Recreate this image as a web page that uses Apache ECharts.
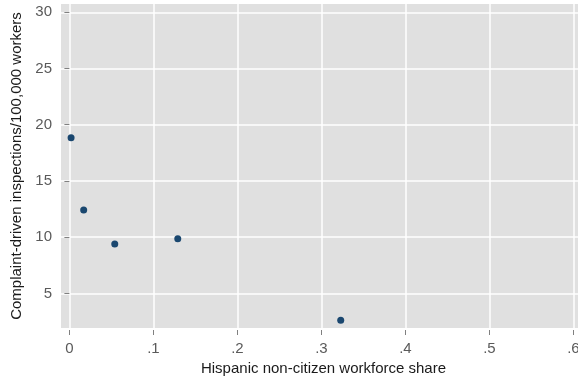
<!DOCTYPE html>
<html>
<head>
<meta charset="utf-8">
<script src="https://cdn.jsdelivr.net/npm/echarts@6/dist/echarts.min.js"></script>
<style>
  html, body { margin: 0; padding: 0; background: #ffffff; }
  #chart { width: 578px; height: 379px; }
</style>
</head>
<body>
<div id="chart"></div>
<script>
// Hispanic non-citizen workforce share vs. complaint-driven inspection rate
const workforceShare = [0.002, 0.017, 0.054, 0.129, 0.323];
const inspectionsPer100k = [18.84, 12.41, 9.39, 9.86, 2.62];

const xTicks = [0, 0.1, 0.2, 0.3, 0.4, 0.5, 0.6];
const xTickLabels = ['0', '.1', '.2', '.3', '.4', '.5', '.6'];
const yTicks = [5, 10, 15, 20, 25, 30];

const points = workforceShare.map((x, i) => [x, inspectionsPer100k[i]]);

const chart = echarts.init(document.getElementById('chart'), null, { renderer: 'canvas' });

const labelColor = '#5a5a5a';
const tickColor = '#808080';
const fontFamily = 'Liberation Sans';

chart.setOption({
  animation: false,
  backgroundColor: '#ffffff',
  grid: {
    left: 61,
    top: 4,
    width: 525,
    height: 324,
    outerBoundsMode: 'none',
    containLabel: false,
    show: true,
    backgroundColor: '#e0e0e0',
    borderWidth: 0
  },
  xAxis: {
    type: 'value',
    min: -0.01,
    max: 0.615,
    offset: 2,
    name: 'Hispanic non-citizen workforce share',
    nameLocation: 'middle',
    nameGap: 30,
    nameTextStyle: { fontFamily, fontSize: 15, color: '#1a1a1a' },
    axisLine: { show: false },
    axisTick: { show: true, length: 5, customValues: xTicks, lineStyle: { color: tickColor, width: 1 } },
    axisLabel: {
      customValues: xTicks,
      margin: 11,
      fontFamily,
      fontSize: 15,
      color: labelColor,
      hideOverlap: false,
      formatter: v => {
        const i = xTicks.findIndex(t => Math.abs(t - v) < 1e-9);
        return i >= 0 ? xTickLabels[i] : '';
      }
    },
    splitLine: { show: true, lineStyle: { color: '#ffffff', width: 1.5 } }
  },
  yAxis: {
    type: 'value',
    min: 1.92,
    max: 30.74,
    offset: 2,
    name: 'Complaint-driven inspections/100,000 workers',
    nameLocation: 'middle',
    nameGap: 34,
    nameTextStyle: { fontFamily, fontSize: 15, color: '#1a1a1a' },
    axisLine: { show: false },
    axisTick: { show: true, length: 5, customValues: yTicks, lineStyle: { color: tickColor, width: 1 } },
    axisLabel: {
      customValues: yTicks,
      margin: 7,
      fontFamily,
      fontSize: 15,
      color: labelColor
    },
    splitLine: { show: true, lineStyle: { color: '#ffffff', width: 1.5 } }
  },
  series: [{
    type: 'scatter',
    data: points,
    symbol: 'circle',
    symbolSize: 7,
    itemStyle: { color: '#1a476f', opacity: 1 }
  }]
});
</script>
</body>
</html>
